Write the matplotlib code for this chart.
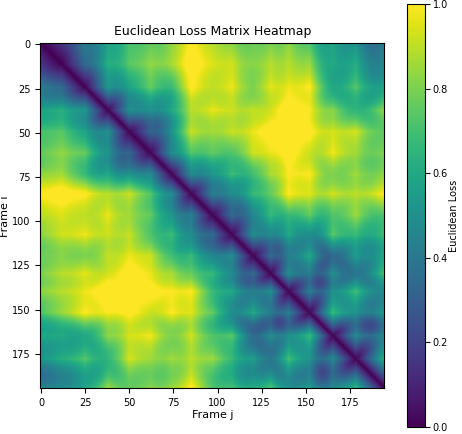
import numpy as np
import matplotlib
matplotlib.use("Agg")
import matplotlib.pyplot as plt

n_frames = 195
key_frames = [0, 12, 25, 38, 50, 62, 74, 85, 97, 108, 120, 130, 140, 152, 165, 178, 194]
feat_x = [0.05, 0.00, 0.15, 0.28, 0.40, 0.55, 0.75, 1.00, 0.85, 0.75, 0.62, 0.55, 0.45, 0.38, 0.32, 0.26, 0.20]
feat_y = [0.00, 0.00, 0.20, 0.40, 0.55, 0.45, 0.30, 0.00, -0.10, -0.15, -0.20, -0.25, -0.30, -0.22, -0.15, -0.10, -0.05]
feat_z = [0.05, 0.00, 0.00, 0.00, 0.00, 0.00, 0.00, 0.00, 0.15, 0.25, 0.40, 0.50, 0.60, 0.50, 0.40, 0.35, 0.30]
feat_w = [0.00, 0.12, 0.28, -0.15, 0.10, -0.15, 0.12, -0.10, 0.15, -0.14, 0.14, -0.16, 0.16, -0.22, 0.22, -0.22, 0.20]
feat_v = [0.00, 0.05, 0.18, 0.25, -0.10, -0.15, 0.12, 0.10, -0.12, -0.16, 0.14, 0.14, -0.16, -0.22, 0.22, 0.22, -0.20]

frames = np.arange(n_frames)
F = np.stack([np.interp(frames, key_frames, f)
              for f in (feat_x, feat_y, feat_z, feat_w, feat_v)], axis=1)
D = np.sqrt(((F[:, None, :] - F[None, :, :]) ** 2).sum(-1))
D = D / np.percentile(D, 96)

fig = plt.figure(figsize=(4.62, 4.34), dpi=100)
ax = fig.add_axes([0.087, 0.105, 0.745, 0.795])
cax = fig.add_axes([0.882, 0.016, 0.038, 0.975])
im = ax.imshow(D, cmap="viridis", vmin=0, vmax=1, aspect="auto")
ax.set_title("Euclidean Loss Matrix Heatmap", fontsize=9)
ax.set_xlabel("Frame j", fontsize=8, labelpad=1)
ax.set_ylabel("Frame i", fontsize=8, labelpad=1)
ax.set_xticks([0, 25, 50, 75, 100, 125, 150, 175])
ax.set_yticks([0, 25, 50, 75, 100, 125, 150, 175])
ax.tick_params(labelsize=7)
cb = fig.colorbar(im, cax=cax)
cb.set_label("Euclidean Loss", fontsize=7, labelpad=1)
cb.ax.tick_params(labelsize=7, pad=2)
fig.savefig("out.png", dpi=100)
